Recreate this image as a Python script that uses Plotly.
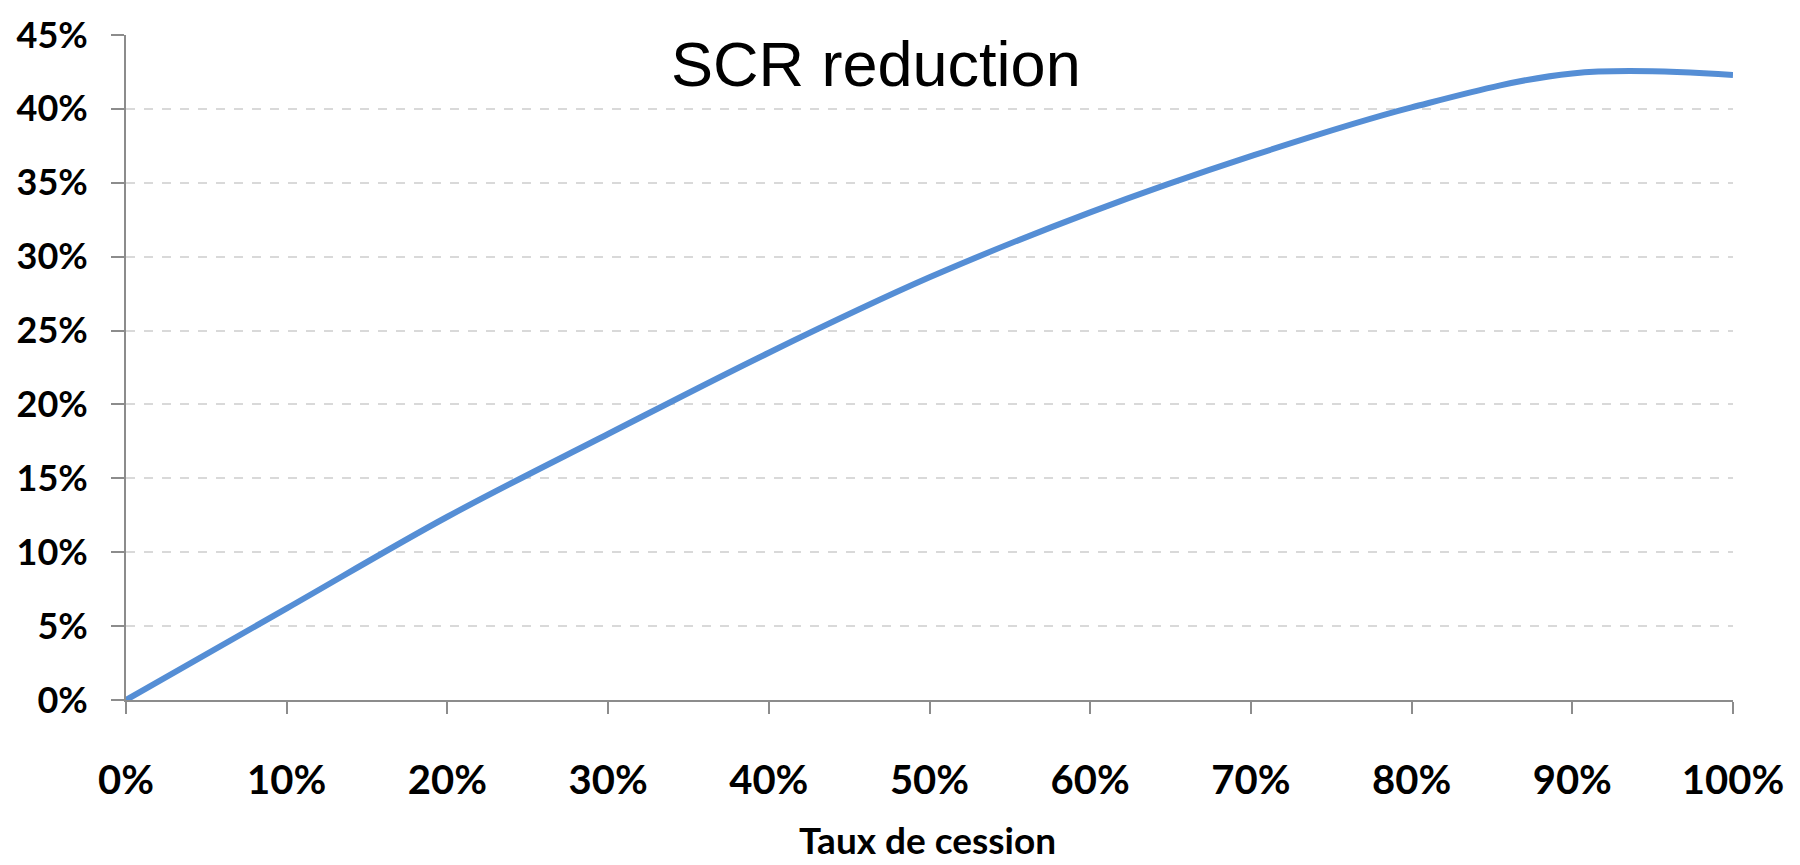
import plotly.graph_objects as go

# Ceded share (taux de cession) and the resulting SCR reduction
taux_cession = [0.0, 0.10, 0.20, 0.30, 0.40, 0.50, 0.60, 0.70, 0.80, 0.90, 1.00]
scr_reduction = [0.0, 0.062, 0.124, 0.180, 0.235, 0.286, 0.330, 0.368, 0.401, 0.424, 0.423]

x_ticks = [0.0, 0.1, 0.2, 0.3, 0.4, 0.5, 0.6, 0.7, 0.8, 0.9, 1.0]
y_ticks = [0.0, 0.05, 0.10, 0.15, 0.20, 0.25, 0.30, 0.35, 0.40, 0.45]

LABEL_FONT = "Lato, 'Open Sans', sans-serif"
AXIS_GREY = "#8c8c8c"

fig = go.Figure()
fig.add_trace(go.Scatter(
    x=taux_cession,
    y=scr_reduction,
    mode="lines",
    line=dict(color="#558ed5", width=6, shape="spline", smoothing=1.0),
    showlegend=False,
    hoverinfo="skip",
))

fig.update_layout(
    width=1800,
    height=865,
    margin=dict(l=126, r=67, t=24, b=165),
    paper_bgcolor="white",
    plot_bgcolor="white",
    showlegend=False,
)

fig.update_xaxes(
    range=[0, 1],
    tickvals=x_ticks,
    tickformat=".0%",
    showgrid=False,
    zeroline=False,
    showline=True,
    linecolor=AXIS_GREY,
    linewidth=2,
    ticks="outside",
    ticklen=12,
    tickwidth=2,
    tickcolor=AXIS_GREY,
    ticklabelstandoff=32,
    tickfont=dict(family=LABEL_FONT, size=40, color="black", weight="bold"),
)

fig.update_yaxes(
    range=[0, 0.45],
    tickvals=y_ticks,
    tickformat=".0%",
    showgrid=True,
    gridcolor="#d9d9d9",
    gridwidth=2,
    griddash="dash",
    zeroline=False,
    showline=True,
    linecolor=AXIS_GREY,
    linewidth=2,
    ticks="outside",
    ticklen=13,
    tickwidth=2,
    tickcolor=AXIS_GREY,
    ticklabelstandoff=16,
    tickfont=dict(family=LABEL_FONT, size=36, color="black", weight="bold"),
)

# Chart title inside the plot area
fig.add_annotation(
    text="SCR reduction",
    xref="paper", yref="paper",
    x=0.467, y=0.956,
    xanchor="center", yanchor="middle",
    showarrow=False,
    font=dict(family="'Liberation Sans', Arial, sans-serif", size=63, color="black"),
)

# Horizontal axis title, sitting at the bottom edge of the figure
fig.add_annotation(
    text="Taux de cession",
    xref="paper", yref="paper",
    x=0.499, y=-(866 - 700) / 676,
    xanchor="center", yanchor="bottom",
    showarrow=False,
    borderpad=0,
    font=dict(family=LABEL_FONT, size=37, color="black", weight="bold"),
)

fig.write_html("out.html")
